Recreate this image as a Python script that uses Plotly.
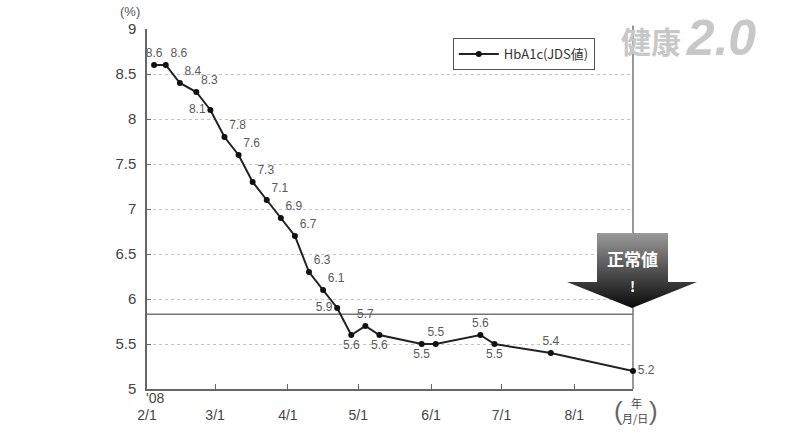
import plotly.graph_objects as go

# HbA1c (JDS) readings, 2008
dates = ["2008-02-04", "2008-02-09", "2008-02-15", "2008-02-22", "2008-02-28",
         "2008-03-05", "2008-03-11", "2008-03-17", "2008-03-23", "2008-03-29",
         "2008-04-04", "2008-04-10", "2008-04-16", "2008-04-22", "2008-04-28",
         "2008-05-04", "2008-05-10", "2008-05-28", "2008-06-03", "2008-06-22",
         "2008-06-28", "2008-07-22", "2008-08-26"]
hba1c = [8.6, 8.6, 8.4, 8.3, 8.1, 7.8, 7.6, 7.3, 7.1, 6.9, 6.7, 6.3, 6.1,
         5.9, 5.6, 5.7, 5.6, 5.5, 5.5, 5.6, 5.5, 5.4, 5.2]
normal_value = 5.83

tick_dates = ["2008-02-01", "2008-03-01", "2008-04-01", "2008-05-01",
              "2008-06-01", "2008-07-01", "2008-08-01"]
tick_text = ["2/1", "3/1", "4/1", "5/1", "6/1", "7/1", "8/1"]
y_ticks = [5, 5.5, 6, 6.5, 7, 7.5, 8, 8.5, 9]

label_pos = ["top center", "top right", "top right", "top right", "middle left",
             "top right", "top right", "top right", "top right", "top right",
             "top right", "top right", "top right", "middle left", "bottom center",
             "top center", "bottom center", "bottom center", "top center",
             "top center", "bottom center", "top center", "middle right"]

FONT = "Liberation Sans, Noto Sans CJK JP, sans-serif"
JP = "Noto Sans CJK JP, sans-serif"

fig = go.Figure()

fig.add_trace(go.Scatter(
    x=dates, y=hba1c, mode="lines+markers+text", name="HbA1c(JDS値)",
    line=dict(color="#222", width=2),
    marker=dict(color="#111", size=6),
    text=[f"{v:.1f}" for v in hba1c], textposition=label_pos,
    textfont=dict(size=12, color="#5a5a5a", family=FONT),
    cliponaxis=False, hoverinfo="skip"))

# arrow "正常値!" drawn in a pixel overlay
ax = [597, 668, 668, 697, 632, 567, 597, 597]
ay = [233, 233, 282, 282, 308, 282, 282, 233]
fig.add_trace(go.Scatter(
    x=ax, y=ay, xaxis="x2", yaxis="y2", mode="lines", fill="toself",
    line=dict(color="rgba(0,0,0,0)", width=0),
    fillgradient=dict(type="vertical", start=233, stop=308,
                      colorscale=[[0, "#9a9a9a"], [0.55, "#4a4a4a"], [1, "#0a0a0a"]]),
    showlegend=False, hoverinfo="skip"))

fig.update_layout(
    width=792, height=445,
    margin=dict(l=147, r=95, t=29, b=56),
    paper_bgcolor="white", plot_bgcolor="rgba(0,0,0,0)",
    font=dict(family=FONT, color="#444"),
    showlegend=True,
    legend=dict(x=0.556, y=0.975, xanchor="left", yanchor="top",
                bordercolor="#555", borderwidth=1, bgcolor="white",
                font=dict(size=13, color="#333", family=JP),
                itemwidth=40),
    xaxis=dict(type="date", domain=[0, 0.8836],
               range=["2008-02-01", "2008-08-26"],
               tickvals=tick_dates, ticktext=tick_text,
               ticks="inside", ticklen=5, tickcolor="#666",
               showline=True, linecolor="#666", linewidth=1.5,
               showgrid=False, zeroline=False,
               tickfont=dict(size=14, color="#444"),
               ticklabelstandoff=12),
    yaxis=dict(range=[5, 9], tickvals=y_ticks, ticktext=[f"{v:g}" for v in y_ticks],
               showline=True, linecolor="#666", linewidth=1.5,
               ticks="inside", ticklen=4, tickcolor="#666",
               showgrid=True, gridcolor="#c4c4c4", griddash="dot", gridwidth=1.2,
               zeroline=False, tickfont=dict(size=15, color="#444"),
               ticklabelstandoff=6),
    xaxis2=dict(domain=[0, 1], range=[147, 697], anchor="y2", visible=False),
    yaxis2=dict(domain=[0, 1], range=[389, 29], anchor="x2", visible=False),
)

# normal line and right border
fig.add_shape(type="line", xref="x domain", yref="y", x0=0, x1=1, layer="below",
              y0=normal_value, y1=normal_value, line=dict(color="#777", width=1.5))
fig.add_shape(type="line", xref="x domain", yref="y domain", x0=1, x1=1, layer="below",
              y0=0, y1=1.01, line=dict(color="#777", width=1.5))

def px_x(p):
    return (p - 147) / 550

def px_y(p):
    return (389 - p) / 360

notes = [
    dict(text="(%)", x=px_x(130), y=px_y(12), font=dict(size=13, color="#555", family=FONT)),
    dict(text="'08", x=px_x(155), y=px_y(398), font=dict(size=14, color="#444", family=FONT)),
    dict(text="(", x=px_x(618), y=px_y(411), font=dict(size=26, color="#666", family=FONT)),
    dict(text=")", x=px_x(653), y=px_y(411), font=dict(size=26, color="#666", family=FONT)),
    dict(text="年", x=px_x(636), y=px_y(403), font=dict(size=11, color="#444", family=JP)),
    dict(text="月/日", x=px_x(635), y=px_y(418), font=dict(size=11, color="#444", family=JP)),
    dict(text="<b>正常値</b>", x=px_x(632), y=px_y(258), font=dict(size=17, color="white", family=JP)),
    dict(text="<b>!</b>", x=px_x(632), y=px_y(286), font=dict(size=14, color="white", family=JP)),
    dict(text="<b>健康</b>", x=px_x(651), y=px_y(40), font=dict(size=30, color="#c8c8c8", family=JP)),
    dict(text="<b><i>2.0</i></b>", x=px_x(721), y=px_y(38), width=90,
         font=dict(size=50, color="#c8c8c8", family=FONT)),
]
for n in notes:
    fig.add_annotation(xref="paper", yref="paper", showarrow=False,
                       xanchor="center", yanchor="middle", **n)

fig.write_html("out.html", config={"displayModeBar": False},
               post_script="document.body.style.margin='0';")
